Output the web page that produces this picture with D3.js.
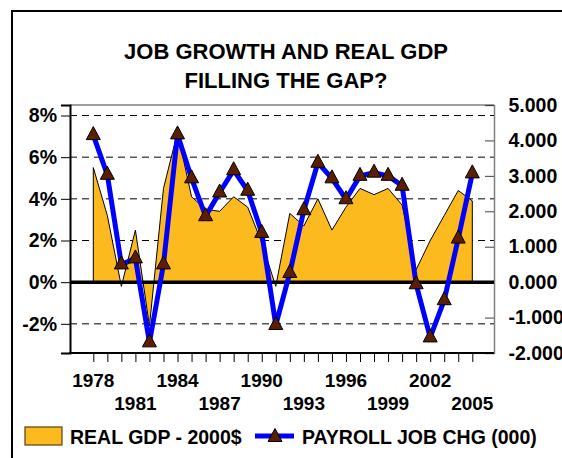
<!DOCTYPE html>
<html><head><meta charset="utf-8">
<script src="https://cdn.jsdelivr.net/npm/d3@7/dist/d3.min.js"></script>
<style>
html,body{margin:0;padding:0;background:#fff;overflow:hidden;}
text{font-family:"Liberation Sans",Arial,sans-serif;font-weight:bold;fill:#000;}
</style></head>
<body>
<svg id="c" width="562" height="458"></svg>
<script>
const years = [1978,1979,1980,1981,1982,1983,1984,1985,1986,1987,1988,1989,1990,1991,1992,1993,1994,1995,1996,1997,1998,1999,2000,2001,2002,2003,2004,2005];
const gdpGrowth = [5.5,3.2,-0.2,2.5,-2.1,4.5,7.2,4.1,3.5,3.4,4.1,3.6,1.9,-0.2,3.3,2.7,4.0,2.5,3.6,4.5,4.2,4.5,3.7,0.6,2.0,3.2,4.4,3.9];
const payrollChg = [4150,3030,500,670,-1700,500,4170,2930,1860,2530,3160,2580,1390,-1210,260,2030,3370,2930,2340,3000,3090,3000,2720,-60,-1560,-510,1230,3070];
const yearLabelsRow1 = ["1978","1984","1990","1996","2002"];
const yearLabelsRow2 = ["1981","1987","1993","1999","2005"];
const leftTicks = [-2,0,2,4,6,8];
const rightTicks = [-2000,-1000,0,1000,2000,3000,4000,5000];
const gridTicks = [-2,2,4,6,8];
const titleLines = ["JOB GROWTH AND REAL GDP","FILLING THE GAP?"];
const legendLabels = ["REAL GDP - 2000$","PAYROLL JOB CHG (000)"];

const ORANGE = "#FDBA1E", BLUE = "#0000FF", BROWN = "#5C1E00";
const svg = d3.select("#c");
const L = 70, R = 494, T = 105, B = 353;

const x = d3.scaleLinear().domain([1978,2005]).range([93.3,472.3]);
const yL = d3.scaleLinear().domain([-3.40,8.504]).range([B,T]);
const yR = d3.scaleLinear().domain([-2000,5000]).range([B,T]);

// outer frame
svg.append("rect").attr("x",12).attr("y",11).attr("width",600).attr("height",500)
  .attr("fill","none").attr("stroke","#000").attr("stroke-width",2);

// title
svg.selectAll("text.title").data(titleLines).join("text").attr("class","title")
  .attr("x",286).attr("y",(d,i)=>59+i*29).attr("text-anchor","middle")
  .style("font-size","22px").text(d=>d);

// gridlines
svg.append("g").selectAll("line").data(gridTicks).join("line")
  .attr("x1",L).attr("x2",R).attr("y1",d=>yL(d)).attr("y2",d=>yL(d))
  .attr("stroke","#000").attr("stroke-width",1).attr("stroke-dasharray","7,5");

// area
const area = d3.area().x((d,i)=>x(years[i])).y0(yL(0)).y1(d=>yL(d));
svg.append("path").datum(gdpGrowth).attr("d",area).attr("fill",ORANGE)
  .attr("stroke","#000").attr("stroke-width",1);

// top border (gray)
svg.append("line").attr("x1",L).attr("x2",R).attr("y1",T).attr("y2",T).attr("stroke","#808080").attr("stroke-width",1.5);

// right axis
const rAxis = svg.append("g").attr("transform",`translate(${R},0)`)
  .call(d3.axisRight(yR).tickValues(rightTicks).tickSize(-9).tickPadding(14.5)
    .tickFormat(d=>(d<0?"-":"")+Math.abs(d/1000).toFixed(3)));
rAxis.select(".domain").attr("stroke","#808080").attr("stroke-width",1.5);
rAxis.selectAll(".tick line").attr("stroke","#404040");
rAxis.selectAll("text").style("font-size","19.5px").attr("fill","#000").attr("font-family",null);

// left axis
const lAxis = svg.append("g").attr("transform",`translate(${L},0)`)
  .call(d3.axisLeft(yL).tickValues(leftTicks).tickSize(9).tickPadding(4)
    .tickFormat(d=>(d<0?"-":"")+Math.abs(d)+"%"));
lAxis.select(".domain").attr("stroke","#000").attr("stroke-width",2);
lAxis.selectAll("text").style("font-size","19.5px").attr("fill","#000").attr("font-family",null);

// bottom axis
const bAxis = svg.append("g").attr("transform",`translate(0,${B})`)
  .call(d3.axisBottom(x).tickValues(years).tickSize(9).tickFormat(""));
bAxis.select(".domain").remove();
svg.append("line").attr("x1",L-1).attr("x2",R).attr("y1",B).attr("y2",B).attr("stroke","#000").attr("stroke-width",2);

// year labels
svg.selectAll("text.yr1").data(yearLabelsRow1).join("text").attr("class","yr1")
  .attr("x",d=>x(+d)).attr("y",387).attr("text-anchor","middle").style("font-size","19px").text(d=>d);
svg.selectAll("text.yr2").data(yearLabelsRow2).join("text").attr("class","yr2")
  .attr("x",d=>x(+d)).attr("y",410).attr("text-anchor","middle").style("font-size","19px").text(d=>d);

// zero line
svg.append("line").attr("x1",L).attr("x2",R).attr("y1",yL(0)).attr("y2",yL(0)).attr("stroke","#000").attr("stroke-width",3.5);

// payroll line
const line = d3.line().x((d,i)=>x(years[i])).y(d=>yR(d));
svg.append("path").datum(payrollChg).attr("d",line).attr("fill","none")
  .attr("stroke",BLUE).attr("stroke-width",5).attr("stroke-linejoin","round");

const tri = "M0,-8.5L7,4.5L-7,4.5Z";
svg.append("g").selectAll("path").data(payrollChg).join("path")
  .attr("d",tri).attr("transform",(d,i)=>`translate(${x(years[i])},${yR(d)})`)
  .attr("fill",BROWN).attr("stroke","#000").attr("stroke-width",1);

// legend
svg.append("rect").attr("x",25).attr("y",427).attr("width",37).attr("height",18)
  .attr("fill",ORANGE).attr("stroke","#5a4010").attr("stroke-width",1.2);
svg.append("text").attr("x",70).attr("y",444).style("font-size","19.5px").text(legendLabels[0]);
svg.append("line").attr("x1",255).attr("x2",294).attr("y1",436).attr("y2",436).attr("stroke",BLUE).attr("stroke-width",5);
svg.append("path").attr("d",tri).attr("transform","translate(275,437)").attr("fill",BROWN).attr("stroke","#000").attr("stroke-width",1);
svg.append("text").attr("x",302).attr("y",444).style("font-size","19.5px").text(legendLabels[1]);
</script>
</body></html>
